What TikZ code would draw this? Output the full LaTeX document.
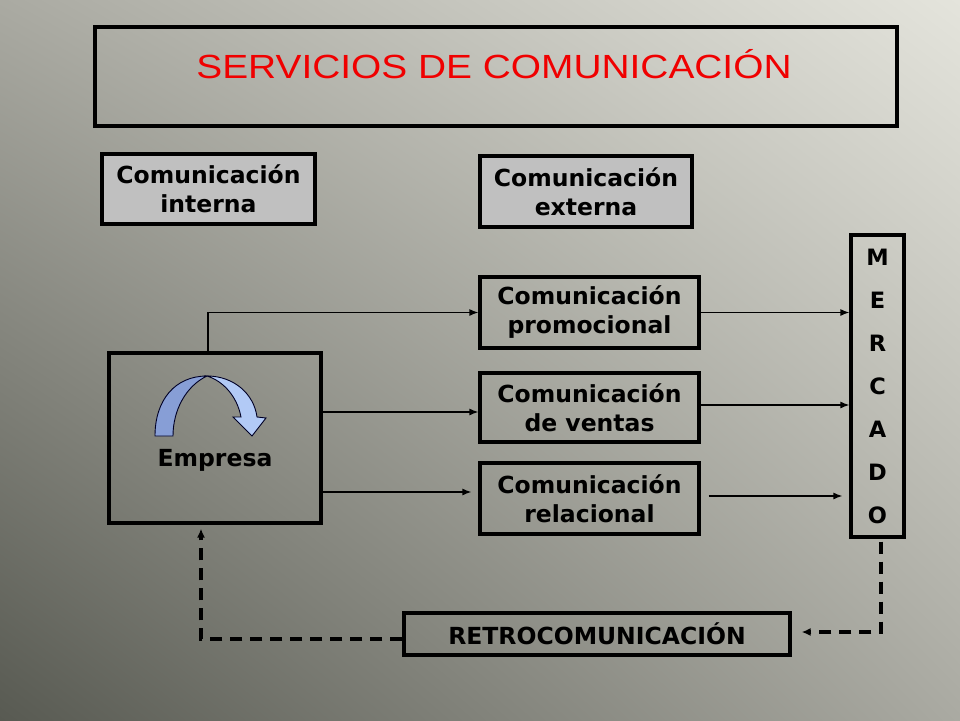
\documentclass[tikz,border=0pt]{standalone}
\usepackage{fontspec}
\setmainfont{DejaVu Sans}
\newfontfamily\titulofont[FakeStretch=1.16]{Liberation Sans}
\usetikzlibrary{positioning}
\usetikzlibrary{arrows,arrows.meta}
\usetikzlibrary{calc}
\usetikzlibrary{shadings}
\definecolor{fondoclaro}{RGB}{228,228,220}
\definecolor{fondooscuro}{RGB}{88,90,82}
\definecolor{fondomedio}{RGB}{170,170,162}
\definecolor{gris}{RGB}{192,192,192}
\definecolor{rojo}{RGB}{240,0,0}
\definecolor{azul}{RGB}{135,158,214}
\definecolor{azulclaro}{RGB}{178,202,246}
\tikzset{
	caja/.style={draw, line width=3.2pt, inner sep=0pt, align=center, font=\fontsize{23.5}{29}\selectfont\bfseries},
	cajagris/.style={caja, fill=gris},
	flecha/.style={-{Latex[length=9pt,width=7pt]}, line width=1.3pt},
	retorno/.style={-{Latex[length=9pt,width=8pt]}, line width=3.4pt, dash pattern=on 12pt off 8pt}
}
\begin{document}
\begin{tikzpicture}[x=1pt, y=-1pt]
					\useasboundingbox (0,0) rectangle (960,720);
					\shade [upper left=fondomedio, upper right=fondoclaro, lower left=fondooscuro, lower right=fondomedio] (0,0) rectangle (960,720);

					\node (titulo) [caja, minimum width=802, minimum height=99] at (496,76.5) {};
					\node [text=rojo, font=\titulofont\fontsize{33.5}{36}\selectfont] at (494,64) {SERVICIOS DE COMUNICACIÓN};

					\node (interna) [cajagris, minimum width=213, minimum height=70] at (208.5,189) {Comunicación\\interna};
					\node (externa) [cajagris, minimum width=212, minimum height=71] at (586,191.5) {Comunicación\\externa};

					\node (promo) [caja, minimum width=219, minimum height=71] at (589.5,312.5) {Comunicación\\promocional};
					\node (ventas) [caja, minimum width=219, minimum height=69] at (589.5,407.5) {Comunicación\\de ventas};
					\node (relac) [caja, minimum width=219, minimum height=71] at (589.5,498.5) {Comunicación\\relacional};

					\node (empresa) [caja, minimum width=212, minimum height=170] at (215,438) {};
					\node [font=\fontsize{23.5}{29}\selectfont\bfseries] at (215,460) {Empresa};

					\node (mercado) [caja, minimum width=53, minimum height=302, font=\fontsize{22.5}{43}\selectfont\bfseries] at (877.5,386) {M\\E\\R\\C\\A\\D\\O};

					\node (retro) [caja, minimum width=386, minimum height=42] at (597,634) {RETROCOMUNICACIÓN};

					\filldraw [fill=azul, draw=black!85!blue, line width=0.9pt] (155,436) .. controls (155,400) and (175,376) .. (207,376) .. controls (186,386) and (173,410) .. (173,436) -- cycle;
					\filldraw [fill=azulclaro, draw=black!85!blue, line width=0.9pt] (207,376) .. controls (234,376) and (254,394) .. (257,417) -- (266,418) -- (252,436) -- (233,417) -- (241,417) .. controls (237,396) and (223,381) .. (207,376) -- cycle;

					\draw [flecha] ([xshift=-7pt]empresa.north) |- (promo.west);
					\draw [flecha] (empresa.east |- 0,412) -- (ventas.west |- 0,412);
					\draw [flecha, shorten >=7pt] (empresa.east |- 0,492) -- (relac.west |- 0,492);

					\draw [flecha] (promo.east) -- (promo.east -| mercado.west);
					\draw [flecha] (ventas.east |- 0,405) -- (mercado.west |- 0,405);
					\draw [flecha, shorten <=8pt, shorten >=7pt] (relac.east |- 0,496) -- (mercado.west |- 0,496);

					\draw [retorno, shorten <=3pt, shorten >=10pt] ([xshift=3.5pt]mercado.south) |- ([yshift=2pt]retro.east);
					\draw [retorno, shorten >=4pt] ([yshift=-5pt]retro.west) -| ([xshift=-14pt]empresa.south);
				\end{tikzpicture}
\end{document}
